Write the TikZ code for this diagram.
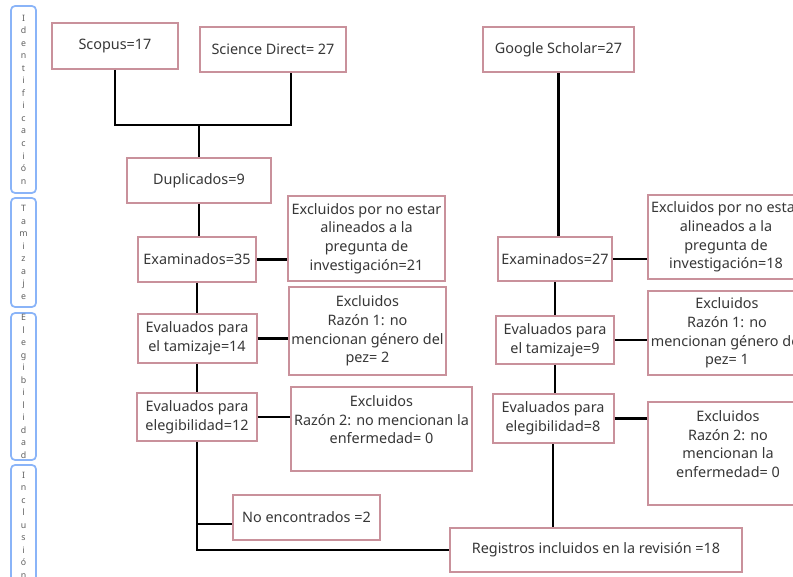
\documentclass[tikz,border=0pt]{standalone}
\usepackage{fontspec}
\setmainfont{Noto Sans}
\usepackage{xcolor}
\definecolor{rosa}{RGB}{201,145,155}
\definecolor{tinta}{RGB}{55,55,55}
\definecolor{azul}{RGB}{138,180,248}
\definecolor{gris}{RGB}{95,95,95}

\begin{document}
\begin{tikzpicture}[x=0.75pt,y=-0.75pt,
  box/.style={draw=rosa,line width=1.5pt,fill=white,text=tinta,align=center,
    inner sep=2pt,font=\fontsize{10.8}{13.9}\selectfont},
  tab/.style={draw=azul,line width=1.3pt,rounded corners=3pt,text=gris,align=center,
    minimum width=18.75pt,inner sep=1pt,font=\fontsize{6.6}{9.4}\selectfont},
  link/.style={line width=2.2pt}]
  \useasboundingbox (0,0) rectangle (793,577);
  \clip (0,0) rectangle (793,577);
  % fases
  \node[tab,minimum height=140.25pt] (fid) at (23.5,99.5) {I\\d\\e\\n\\t\\i\\f\\i\\c\\a\\c\\i\\ó\\n};
  \node[tab,minimum height=81.75pt] (fta) at (23.5,252.5) {T\\a\\m\\i\\z\\a\\j\\e};
  \node[tab,minimum height=110.25pt] (fel) at (23.5,386.5) {E\\l\\e\\g\\i\\b\\i\\l\\i\\d\\a\\d};
  \node[tab,minimum height=90pt] (fin) at (23.5,525) {I\\n\\c\\l\\u\\s\\i\\ó\\n};
  % fuentes
  \node[box,minimum width=94.5pt,minimum height=34.5pt] (scopus) at (115,46) {Scopus=17};
  \node[box,minimum width=109.5pt,minimum height=33.75pt] (sd) at (273,49.5) {Science Direct= 27};
  \node[box,minimum width=113.25pt,minimum height=33.75pt] (gs) at (558.5,49.5) {Google Scholar=27};
  % columna izquierda
  \node[box,minimum width=108pt,minimum height=33.75pt] (dup) at (199,180.5) {Duplicados=9};
  \node[box,minimum width=88.5pt,minimum height=33.75pt] (exa35) at (197,259.5) {Examinados=35};
  \node[box,minimum width=117.75pt,minimum height=63.75pt] (exc1) at (366.5,238.5)
    {Excluidos por no estar\\alineados a la\\pregunta de\\investigación=21};
  \node[box,minimum width=89.25pt,minimum height=36.75pt] (tam14) at (197,338.5)
    {Evaluados para\\el tamizaje=14};
  \node[box,minimum width=116.25pt,minimum height=66pt] (exc2) at (367.5,331)
    {Excluidos\\Razón 1: no\\mencionan género del\\pez= 2};
  \node[box,minimum width=90pt,minimum height=36pt] (ele12) at (197,417)
    {Evaluados para\\elegibilidad=12};
  \node[box,minimum width=135.75pt,minimum height=63pt] (exc3) at (381.5,429)
    {Excluidos\\Razón 2: no mencionan la\\enfermedad= 0\\ \mbox{}};
  \node[box,minimum width=110.25pt,minimum height=33.75pt] (noenc) at (306.5,517.5) {No encontrados =2};
  \node[box,minimum width=219pt,minimum height=33pt] (reg) at (596,550)
    {Registros incluidos en la revisión =18};
  % columna derecha
  \node[box,minimum width=85.5pt,minimum height=33pt] (exa27) at (555,259) {Examinados=27};
  \node[box,minimum width=117pt,minimum height=63pt] (excR1) at (726,237)
    {Excluidos por no estar\\alineados a la\\pregunta de\\investigación=18};
  \node[box,minimum width=88.5pt,minimum height=36pt] (tam9) at (555,340)
    {Evaluados para\\el tamizaje=9};
  \node[box,minimum width=115.5pt,minimum height=63pt] (excR2) at (727,333)
    {Excluidos\\Razón 1: no\\mencionan género del\\pez= 1};
  \node[box,minimum width=90.75pt,minimum height=36.75pt] (ele8) at (553,418.5)
    {Evaluados para\\elegibilidad=8};
  \node[box,minimum width=120pt,minimum height=77.25pt] (excR3) at (728,453.5)
    {Excluidos\\Razón 2: no\\mencionan la\\enfermedad= 0\\ \mbox{}};
  % uniones
  \coordinate (jr) at (291,125);
  \coordinate (jn) at (197,524);
  \draw[link] (scopus.south) |- (jr) -- (jr |- sd.south);
  \draw[link] (dup.north) -- (dup.north |- jr);
  \draw[link] (dup.south) -- (dup.south |- exa35.north);
  \draw[link] (exa35.south) -- (tam14.north);
  \draw[link] (tam14.south) -- (ele12.north);
  \draw[link] (ele12.south) |- (reg.west);
  \draw[link] (jn) -- (jn -| noenc.west);
  \draw[link] (exa35.east) -- (exa35.east -| exc1.west);
  \draw[link] (tam14.east) -- (tam14.east -| exc2.west);
  \draw[link] (ele12.east) -- (ele12.east -| exc3.west);
  \draw[link] (gs.south) -- (gs.south |- exa27.north);
  \draw[link] (exa27.south) -- (tam9.north);
  \draw[link] (tam9.south) -- (tam9.south |- ele8.north);
  \draw[link] (ele8.south) -- (ele8.south |- reg.north);
  \draw[link] (exa27.east) -- (exa27.east -| excR1.west);
  \draw[link] (tam9.east) -- (tam9.east -| excR2.west);
  \draw[link] (ele8.east) -- (ele8.east -| excR3.west);
\end{tikzpicture}
\end{document}
